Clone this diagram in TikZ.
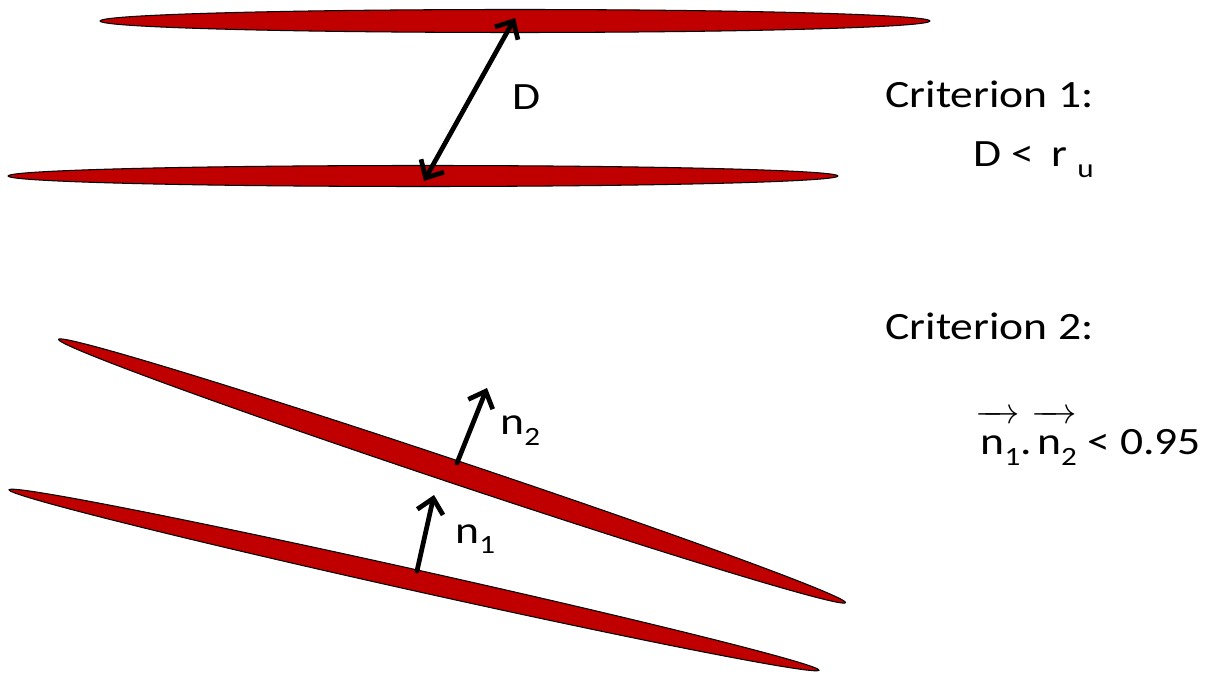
\documentclass[tikz,border=0pt]{standalone}
\usepackage{fontspec}
\setmainfont{Carlito}[FakeStretch=1.18]
\usetikzlibrary{shapes.geometric,arrows.meta}
\definecolor{platered}{RGB}{192,0,0}
\newcommand\lowidx[1]{\raisebox{-6pt}{\fontsize{15}{15}\selectfont #1}}
\newcommand\overvec[1]{$\overrightarrow{\mbox{\hspace{3pt}\rule{0pt}{19pt}#1}}$}
\begin{document}
\begin{tikzpicture}[x=0.02cm,y=-0.02cm,line cap=round,
    plate/.style={ellipse,draw=black,line width=0.6pt,fill=platered,inner sep=0pt,minimum width=16.6cm},
    vec/.style={line width=2.7pt,-{Straight Barb[length=8pt,width=15pt]}},
    dvec/.style={line width=2.7pt,{Straight Barb[length=8pt,width=15pt]}-{Straight Barb[length=8pt,width=15pt]}},
    lbl/.style={font=\fontsize{22}{26}\selectfont,inner sep=0pt,anchor=base west}]
    \useasboundingbox (0,0) rectangle (1217,675);
    \node[plate,minimum height=0.46cm] (topA) at (515,21) {};
    \node[plate,minimum height=0.42cm] (topB) at (423,176) {};
    \node[plate,minimum height=0.46cm,rotate=-18.5] (tiltA) at (452,471) {};
    \node[plate,minimum height=0.42cm,rotate=-12.56] (tiltB) at (414,580) {};
    \coordinate (dlow) at (424,181); \coordinate (dhigh) at (515,18);
    \draw[dvec] (dlow) -- (dhigh);
    \coordinate (nonefoot) at (417,571); \coordinate (nonetip) at (434,495);
    \coordinate (ntwofoot) at (457,463); \coordinate (ntwotip) at (487,388);
    \draw[vec] (nonefoot) -- (nonetip);
    \draw[vec] (ntwofoot) -- (ntwotip);
    \node[lbl] (dlbl) at (512,110) {D};
    \node[lbl] (nonelbl) at (455,543) {n\lowidx{1}};
    \node[lbl] (ntwolbl) at (500,435) {n\lowidx{2}};
    \node[lbl] (critA) at (885,108) {Criterion 1:};
    \node[lbl] (critAeq) at (973,167) {D <\hspace{0.45em}r\hspace{0.25em}\lowidx{u}};
    \node[lbl] (critB) at (885,340) {Criterion 2:};
    \node[lbl] (critBeq) at (975,455) {\overvec{n\lowidx{1}}.\overvec{n\lowidx{2}} < 0.95};
\end{tikzpicture}
\end{document}
